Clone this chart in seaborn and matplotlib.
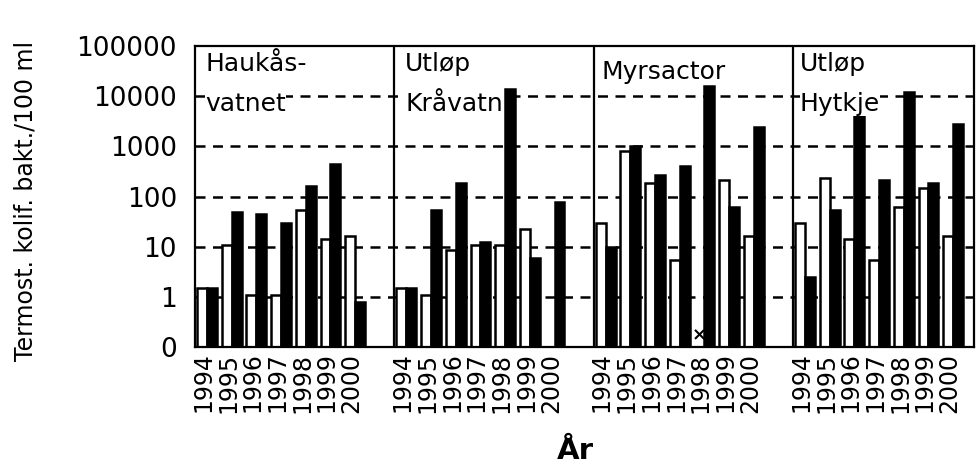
import numpy as np
import pandas as pd
import matplotlib
matplotlib.use("Agg")
import matplotlib.pyplot as plt
import seaborn as sns

# ---- data ----
years = ["1994", "1995", "1996", "1997", "1998", "1999", "2000"]
panels = ["Haukås-\nvatnet", "Utløp\nKråvatn", "Myrsactor", "Utløp\nHytkje"]
series = ["A", "B"]  # white, black

haukas_a = [1.5, 11, 1.1, 1.1, 55, 14, 16]
haukas_b = [1.5, 48, 44, 30, 165, 440, 0.8]
kravatn_a = [1.5, 1.1, 8.7, 11, 11, 23, np.nan]
kravatn_b = [1.5, 55, 185, 12.5, 13800, 6, 78]
myrs_a = [30, 800, 185, 5.3, np.nan, 210, 16]
myrs_b = [10, 1000, 270, 400, 15600, 62, 2400]
hylkje_a = [30, 235, 14, 5.3, 62, 145, 16]
hylkje_b = [2.5, 55, 4000, 210, 12200, 185, 2800]

values_a = [haukas_a, kravatn_a, myrs_a, hylkje_a]
values_b = [haukas_b, kravatn_b, myrs_b, hylkje_b]

ytick_vals = [0.1, 1, 10, 100, 1000, 10000, 100000]
ytick_labels = ["0", "1", "10", "100", "1000", "10000", "100000"]

# ---- layout ----
PANEL_STEP = 8.07
rows = []
for p in range(len(panels)):
    for i in range(len(years)):
        x = p * PANEL_STEP + i
        rows.append({"x": x, "series": "A", "value": values_a[p][i]})
        rows.append({"x": x, "series": "B", "value": values_b[p][i]})
df = pd.DataFrame(rows)

sns.set_style("white")
plt.rcParams["font.family"] = ["DejaVu Sans"]
plt.rcParams["text.color"] = "black"
plt.rcParams["xtick.color"] = "black"
plt.rcParams["ytick.color"] = "black"
plt.rcParams["axes.labelcolor"] = "black"

W, H = 976, 473
fig = plt.figure(figsize=(W / 100, H / 100), dpi=100)
L, R, T, B = 195, 974, 46, 347
ax = fig.add_axes([L / W, 1 - B / H, (R - L) / W, (B - T) / H])
ax.set_yscale("log")

sns.barplot(data=df, x="x", y="value", hue="series", hue_order=series,
            palette={"A": "white", "B": "black"}, native_scale=True,
            width=0.8, dodge=True, errorbar=None, edgecolor="black",
            linewidth=1.8, legend=False, ax=ax, zorder=2)

left = -0.485
ax.set_xlim(left, left + (R - L) / 24.7)
ax.set_ylim(0.1, 100000)

for v in [1, 10, 100, 1000, 10000]:
    ax.axhline(v, color="black", lw=1.8, linestyle=(0, (4, 3)), zorder=0.5)
for p in range(1, len(panels)):
    ax.axvline(left + p * PANEL_STEP, color="black", lw=1.6, zorder=3)

centers = [p * PANEL_STEP + i - 0.15 for p in range(len(panels)) for i in range(len(years))]
ax.set_xticks(centers)
ax.set_xticklabels(years * len(panels), rotation=90, fontsize=17, va="top")
ax.tick_params(axis="x", length=0, pad=4)
ax.set_yticks(ytick_vals)
ax.set_yticklabels(ytick_labels, fontsize=19)
ax.yaxis.set_minor_locator(matplotlib.ticker.NullLocator())
ax.tick_params(axis="y", length=0, pad=13)
ax.set_xlabel("")
ax.set_ylabel("")
for s in ax.spines.values():
    s.set_color("black")
    s.set_linewidth(1.6)

# panel titles (one text per line)
title_x = [205, 405, 602, 800]
line_y = [64, 104]
for tx, name in zip(title_x, panels):
    lines = name.split("\n")
    ys = line_y if len(lines) > 1 else [72]
    for ln, ty in zip(lines, ys):
        fig.text(tx / W, 1 - ty / H, ln, fontsize=18, va="center", ha="left",
                 zorder=5, bbox=dict(facecolor="white", edgecolor="none", pad=0))

# missing-value marker
ax.text(2 * PANEL_STEP + 4 - 0.2, 0.17, "×", fontsize=13, fontweight="bold",
        ha="center", va="center", zorder=4)

fig.text(26 / W, 1 - 201 / H, "Termost. kolif. bakt./100 ml", rotation=90,
         fontsize=17, ha="center", va="center")
fig.text(575 / W, 1 - 451 / H, "År", fontsize=21, fontweight="bold",
         ha="center", va="center")

fig.savefig("out.png", dpi=100)
